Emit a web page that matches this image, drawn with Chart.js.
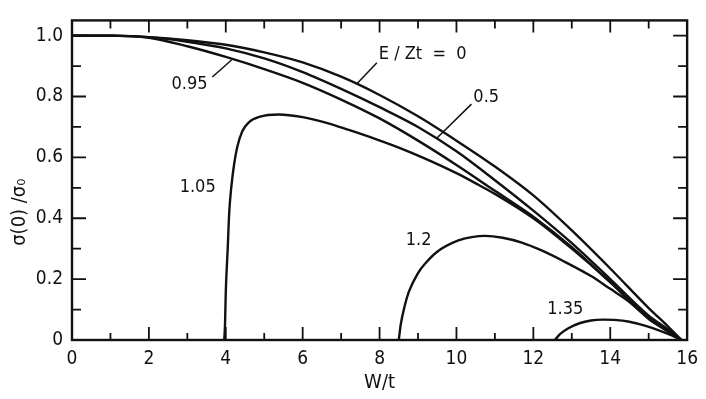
<!DOCTYPE html>
<html>
<head>
<meta charset="utf-8">
<script src="https://cdn.jsdelivr.net/npm/chart.js@4.4.1/dist/chart.umd.min.js"></script>
<style>
  html, body { margin: 0; padding: 0; background: #fff; }
  #wrap { width: 706px; height: 399px; }
</style>
</head>
<body>
<div id="wrap"><canvas id="sigma-chart"></canvas></div>
<script>
// values: sigma(0)/sigma0 against W/t for several E/Zt
var xUpper = [0, 1, 2, 3, 4, 5, 6, 7, 8, 9, 10, 11, 12, 13, 14, 15, 15.5, 15.85];
var yE0    = [1.0, 1.0, 0.995, 0.985, 0.97, 0.945, 0.912, 0.865, 0.805, 0.735, 0.655, 0.57, 0.475, 0.36, 0.235, 0.105, 0.045, 0];
var yE05   = [1.0, 1.0, 0.995, 0.98, 0.958, 0.925, 0.88, 0.825, 0.765, 0.70, 0.62, 0.525, 0.425, 0.318, 0.2, 0.08, 0.035, 0];
var yE095  = [1.0, 1.0, 0.993, 0.965, 0.93, 0.89, 0.845, 0.79, 0.728, 0.655, 0.575, 0.49, 0.405, 0.305, 0.19, 0.075, 0.03, 0];

var x105 = [3.96, 3.98, 4.0, 4.05, 4.09, 4.15, 4.22, 4.3, 4.43, 4.6, 4.87, 5.39, 6, 6.6, 7.2, 7.9, 8.5, 9.2, 10, 10.57, 11, 12, 13, 14, 15, 15.5, 15.85];
var y105 = [0, 0.05, 0.158, 0.3, 0.42, 0.51, 0.58, 0.635, 0.686, 0.715, 0.733, 0.741, 0.732, 0.714, 0.69, 0.66, 0.632, 0.595, 0.548, 0.51, 0.48, 0.4, 0.3, 0.19, 0.07, 0.03, 0];

var x12 = [8.5, 8.55, 8.65, 8.76, 9.0, 9.2, 9.5, 10.05, 10.4, 10.74, 11.2, 11.7, 12.2, 12.8, 13.5, 14.0, 14.5, 15, 15.5, 15.85];
var y12 = [0, 0.05, 0.11, 0.158, 0.22, 0.253, 0.29, 0.327, 0.338, 0.342, 0.336, 0.32, 0.295, 0.258, 0.21, 0.168, 0.125, 0.07, 0.028, 0];

var x135 = [12.56, 12.7, 12.9, 13.2, 13.5, 13.8, 14.1, 14.5, 14.9, 15.3, 15.6, 15.85];
var y135 = [0, 0.02, 0.038, 0.055, 0.064, 0.067, 0.066, 0.06, 0.047, 0.03, 0.015, 0];

var xTickValues = [0, 2, 4, 6, 8, 10, 12, 14, 16];
var yTickValues = [0, 0.2, 0.4, 0.6, 0.8, 1.0];

// curve labels (text, anchor in data units, optional leader line in data units)
var curveLabels = [
    { text: "E / Zt  =  0", x: 7.98, y: 0.94, lead: [7.93, 0.911, 7.41, 0.842] },
    { text: "0.5", x: 10.44, y: 0.797, lead: [10.39, 0.775, 9.48, 0.662] },
    { text: "0.95", x: 2.59, y: 0.839, lead: [3.65, 0.864, 4.15, 0.92] },
    { text: "1.05", x: 2.80, y: 0.50 },
    { text: "1.2", x: 8.68, y: 0.326 },
    { text: "1.35", x: 12.36, y: 0.101 }
];

function toPoints(xs, ys) {
    var pts = [];
    for (var i = 0; i < xs.length; i++) {
        pts.push({ x: xs[i], y: ys[i] });
    }
    return pts;
}

var ink = "#111";
var fontName = "'DejaVu Sans Condensed', 'DejaVu Sans', sans-serif";

function curve(pts) {
    return {
        data: pts,
        borderColor: ink,
        borderWidth: 2.4,
        pointRadius: 0,
        showLine: true,
        fill: false,
        cubicInterpolationMode: 'monotone'
    };
}

// frame, inward ticks, y title and curve labels
var paperPlugin = {
    id: 'paper',
    afterDatasetsDraw: function (chart) {
        var ctx = chart.ctx;
        var a = chart.chartArea;
        var xs = chart.scales.x;
        var ys = chart.scales.y;
        ctx.save();
        ctx.strokeStyle = ink;
        ctx.lineWidth = 2.4;
        ctx.strokeRect(a.left, a.top, a.right - a.left, a.bottom - a.top);

        ctx.lineWidth = 1.8;
        ctx.beginPath();
        for (var i = 1; i < 16; i++) {
            var px = xs.getPixelForValue(i);
            var lb = (i % 2 === 0) ? 13 : 7;
            var lt = (i % 2 === 0) ? 12 : 8;
            ctx.moveTo(px, a.bottom); ctx.lineTo(px, a.bottom - lb);
            ctx.moveTo(px, a.top); ctx.lineTo(px, a.top + lt);
        }
        for (var j = 1; j <= 10; j++) {
            var py = ys.getPixelForValue(j / 10);
            var l = (j % 2 === 0) ? 14 : 9;
            ctx.moveTo(a.left, py); ctx.lineTo(a.left + l, py);
            ctx.moveTo(a.right, py); ctx.lineTo(a.right - l, py);
        }
        ctx.stroke();

        ctx.fillStyle = ink;
        ctx.font = "18px " + fontName;
        ctx.textBaseline = "middle";
        ctx.textAlign = "left";
        curveLabels.forEach(function (c) {
            ctx.fillText(c.text, xs.getPixelForValue(c.x), ys.getPixelForValue(c.y));
            if (c.lead) {
                ctx.lineWidth = 1.5;
                ctx.beginPath();
                ctx.moveTo(xs.getPixelForValue(c.lead[0]), ys.getPixelForValue(c.lead[1]));
                ctx.lineTo(xs.getPixelForValue(c.lead[2]), ys.getPixelForValue(c.lead[3]));
                ctx.stroke();
            }
        });

        // rotated y title, sitting a little below the middle as in the figure
        ctx.translate(20, ys.getPixelForValue(0.42));
        ctx.rotate(-Math.PI / 2);
        ctx.textAlign = "center";
        ctx.font = "20px " + fontName;
        ctx.fillText("σ(0) /σ₀", 0, 0);
        ctx.restore();
    }
};

var context = document.getElementById("sigma-chart").getContext("2d");
var sigmaChart = new Chart(context, {
    type: 'scatter',
    data: {
        datasets: [
            curve(toPoints(xUpper, yE0)),
            curve(toPoints(xUpper, yE05)),
            curve(toPoints(xUpper, yE095)),
            curve(toPoints(x105, y105)),
            curve(toPoints(x12, y12)),
            curve(toPoints(x135, y135))
        ]
    },
    options: {
        responsive: true,
        maintainAspectRatio: false,
        animation: false,
        layout: { padding: { top: 8, right: 17, left: 0, bottom: 0 } },
        plugins: {
            legend: { display: false },
            tooltip: { enabled: false }
        },
        scales: {
            x: {
                type: 'linear',
                min: 0,
                max: 16,
                afterBuildTicks: function (scale) {
                    scale.ticks = xTickValues.map(function (v) { return { value: v }; });
                },
                afterFit: function (scale) { scale.height = 59; },
                grid: { display: false, drawTicks: false },
                border: { display: false },
                ticks: {
                    color: ink,
                    padding: 8,
                    maxRotation: 0,
                    font: { family: fontName, size: 19 }
                },
                title: {
                    display: true,
                    text: "W/t",
                    color: ink,
                    padding: { top: 0, bottom: 4 },
                    font: { family: fontName, size: 20 }
                }
            },
            y: {
                type: 'linear',
                min: 0,
                max: 1.05,
                afterBuildTicks: function (scale) {
                    scale.ticks = yTickValues.map(function (v) { return { value: v }; });
                },
                afterFit: function (scale) { scale.width = 72; },
                grid: { display: false, drawTicks: false },
                border: { display: false },
                ticks: {
                    color: ink,
                    padding: 9,
                    font: { family: fontName, size: 19 },
                    callback: function (v) { return v === 0 ? "0" : v.toFixed(1); }
                }
            }
        }
    },
    plugins: [paperPlugin]
});
</script>
</body>
</html>
